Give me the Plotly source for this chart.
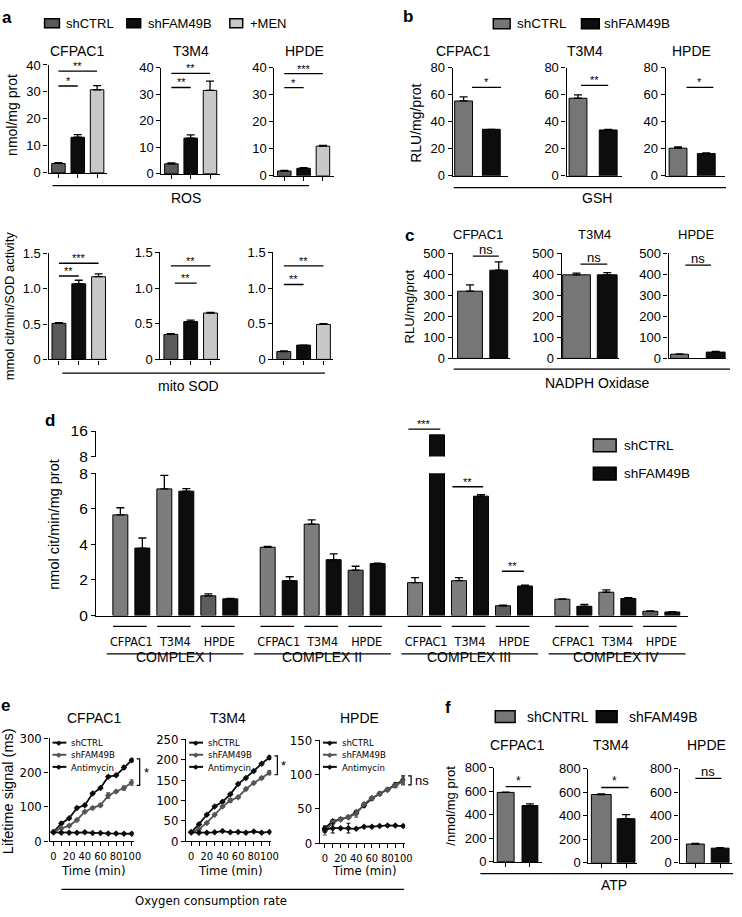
import plotly.graph_objects as go

W, H = 742, 917
FONT = 'Liberation Sans, Arial, sans-serif'
NARROW = 'Liberation Sans Narrow, DejaVu Sans Condensed, Liberation Sans, Arial, sans-serif'

cells = ['CFPAC1', 'T3M4', 'HPDE']

# a: ROS (nmol/mg prot) and mito SOD, shCTRL / shFAM49B / +MEN
ros_ctrl = [3.5, 3.8, 1.8]
ros_fam = [13.2, 13.5, 2.8]
ros_men = [30.8, 31.5, 11.0]
ros_ctrl_err = [0.3, 0.3, 0.2]
ros_fam_err = [1.0, 1.2, 0.2]
ros_men_err = [1.5, 3.5, 0.3]

sod_ctrl = [0.51, 0.35, 0.11]
sod_fam = [1.07, 0.53, 0.20]
sod_men = [1.17, 0.65, 0.49]
sod_ctrl_err = [0.01, 0.01, 0.01]
sod_fam_err = [0.05, 0.02, 0.0]
sod_men_err = [0.04, 0.01, 0.01]

# b: GSH
gsh_ctrl = [55.5, 57.5, 20.5]
gsh_fam = [34.5, 34.0, 16.5]
gsh_ctrl_err = [3.0, 2.5, 1.0]
gsh_fam_err = [0.0, 0.5, 0.5]

# c: NADPH oxidase
nox_ctrl = [320, 398, 20]
nox_fam = [420, 398, 30]
nox_ctrl_err = [30, 8, 2]
nox_fam_err = [40, 10, 3]

# d: respiratory chain complexes (rows = complex, cols = cell line)
complexes = ['COMPLEX I', 'COMPLEX II', 'COMPLEX III', 'COMPLEX IV']
cx_ctrl = [[5.66, 7.12, 1.11], [3.84, 5.14, 2.55], [1.85, 1.96, 0.55], [0.92, 1.31, 0.24]]
cx_fam = [[3.79, 6.99, 0.94], [1.96, 3.14, 2.92], [14.8, 6.71, 1.66], [0.52, 0.96, 0.20]]
cx_ctrl_err = [[0.40, 0.76, 0.11], [0.04, 0.24, 0.22], [0.28, 0.17, 0.03], [0.02, 0.13, 0.02]]
cx_fam_err = [[0.57, 0.15, 0.02], [0.22, 0.33, 0.02], [0.0, 0.09, 0.05], [0.10, 0.04, 0.02]]

# e: oxygen consumption, lifetime signal (ms)
time_min = [0, 10, 20, 30, 40, 50, 60, 70, 80, 90, 100]
ocr_ctrl = [[27, 52, 67, 97, 105, 139, 155, 188, 192, 215, 236],
            [22, 42, 65, 85, 97, 115, 140, 155, 172, 190, 205],
            [22, 32, 35, 38, 45, 55, 65, 72, 78, 85, 92]]
ocr_fam = [[27, 38, 45, 62, 86, 97, 105, 133, 145, 155, 171],
           [22, 30, 45, 65, 85, 100, 108, 128, 143, 155, 168],
           [18, 30, 35, 38, 43, 57, 66, 72, 78, 84, 90]]
ocr_anti = [[26, 25, 25, 25, 26, 24, 24, 23, 23, 22, 22],
            [22, 21, 21, 22, 25, 22, 23, 21, 24, 21, 23],
            [20, 22, 22, 22, 21, 24, 24, 25, 26, 26, 25]]
ocr_ctrl_err = [[2, 3, 2, 3, 3, 3, 2, 3, 3, 5, 4],
                [1, 2, 2, 2, 2, 2, 2, 2, 2, 3, 4],
                [3, 2, 2, 2, 2, 2, 2, 2, 2, 3, 6]]
ocr_fam_err = [[2, 2, 2, 3, 3, 3, 4, 8, 3, 6, 8],
               [1, 2, 2, 2, 2, 5, 2, 3, 2, 3, 5],
               [6, 3, 2, 2, 5, 2, 2, 2, 2, 3, 5]]
ocr_anti_err = [[1, 1, 1, 1, 1, 1, 1, 1, 1, 1, 1],
                [1, 1, 1, 1, 1, 1, 1, 1, 1, 1, 1],
                [4, 7, 1, 7, 1, 1, 1, 1, 1, 1, 1]]

# f: ATP
atp_ctrl = [590, 580, 160]
atp_fam = [478, 375, 125]
atp_ctrl_err = [3, 5, 5]
atp_fam_err = [15, 35, 5]

GRAY_A = '#5a5a5a'
LIGHT = '#c8c8c8'
BLACK = '#0d0d0d'
GRAY = '#767676'
GRAY_DARK = '#5c5c5c'

fig = go.Figure()
layout = {}
shapes = []
annots = []


def px(x):
    return x / W


def py(y):
    return 1 - y / H


AXIS = dict(showline=True, linecolor='black', linewidth=1.3, showgrid=False, zeroline=False,
            fixedrange=True, tickcolor='black', tickwidth=1.2, ticklen=4, tickangle=0)


def ids(i):
    return ('x', 'y') if i == 1 else ('x%d' % i, 'y%d' % i)


def make_axes(i, box, xr, yr, yvals, xvals=None, xlabels=None, xticks=False, yfont=13, xfont=13):
    left, right, top, bottom = box
    xa, ya = ids(i)
    sx = '' if i == 1 else str(i)
    layout['xaxis' + sx] = dict(AXIS, domain=[px(left), px(right)], range=xr, anchor=ya,
                                tickvals=xvals if xvals is not None else [],
                                ticktext=xlabels, ticks='outside' if xticks else '',
                                showticklabels=xlabels is not None,
                                tickfont=dict(family=FONT, size=xfont, color='black'))
    layout['yaxis' + sx] = dict(AXIS, domain=[py(bottom), py(top)], range=yr, anchor=xa,
                                tickvals=yvals, ticks='outside',
                                tickfont=dict(family=FONT, size=yfont, color='black'))
    return xa, ya


def add_bar(xa, ya, x, y, err, color, width, name):
    fig.add_trace(go.Bar(
        x=x, y=y, xaxis=xa, yaxis=ya, width=width, name=name,
        marker=dict(color=color, line=dict(color='black', width=1)),
        error_y=dict(type='data', symmetric=False, array=err, arrayminus=[0] * len(err),
                     color='black', thickness=1.3, width=4)))


def sig(xa, ya, x0, x1, y, text, size=11):
    shapes.append(dict(type='line', xref=xa, yref=ya, x0=x0, x1=x1, y0=y, y1=y,
                       line=dict(color='black', width=1.3)))
    annots.append(dict(xref=xa, yref=ya, x=(x0 + x1) / 2, y=y, text=text, showarrow=False,
                       yanchor='bottom', yshift=-3,
                       font=dict(family=FONT, size=size, color='black')))


def text(x, y, t, size=14, family=FONT, angle=0, bold=False, anchor='center', color='black'):
    annots.append(dict(xref='paper', yref='paper', x=px(x), y=py(y), text='<b>%s</b>' % t if bold else t,
                       showarrow=False, textangle=angle, xanchor=anchor, yanchor='middle',
                       font=dict(family=family, size=size, color=color)))


def hline(x0, x1, y, width=1.3, color='black'):
    shapes.append(dict(type='line', xref='paper', yref='paper', x0=px(x0), x1=px(x1),
                       y0=py(y), y1=py(y), line=dict(color=color, width=width)))


def swatch(x0, y0, x1, y1, color, label, tx, size=13):
    shapes.append(dict(type='rect', xref='paper', yref='paper', x0=px(x0), x1=px(x1), y0=py(y1), y1=py(y0),
                       fillcolor=color, line=dict(color='black', width=1.5)))
    text(tx, (y0 + y1) / 2, label, size, anchor='left')


def bar_range(box, first, step):
    left, right = box[0], box[1]
    return [-first / step, (right - left - first) / step]


# ---------------- panel a ----------------
a_top = [(49, 108, 57, 167), (163, 222, 60, 168), (277, 337, 60, 170)]
a_bot = [(49, 108, 249, 357), (162, 222, 248, 357), (276, 336, 248, 357)]
a_top_sig = [[(0, 2, 37.7, '**'), (0, 1, 32.2, '*')],
             [(0, 2, 37.9, '**'), (0, 1, 32.6, '**')],
             [(0, 2, 37.9, '***'), (0, 1, 32.7, '*')]]
a_bot_sig = [[(0, 2, 1.36, '***'), (0, 1, 1.18, '**')],
             [(0, 2, 1.31, '**'), (0.2, 1.3, 1.07, '**')],
             [(0, 2, 1.31, '**'), (0, 1, 1.05, '**')]]
a_titles_x = [78, 193, 307]
idx = 1
for k in range(3):
    xa, ya = make_axes(idx, a_top[k], bar_range(a_top[k], 10, 19.5), [0, 40], [0, 10, 20, 30, 40],
                       xvals=[0, 1, 2], xticks=True)
    idx += 1
    add_bar(xa, ya, [0], [ros_ctrl[k]], [ros_ctrl_err[k]], GRAY_A, 0.7, 'shCTRL')
    add_bar(xa, ya, [1], [ros_fam[k]], [ros_fam_err[k]], BLACK, 0.7, 'shFAM49B')
    add_bar(xa, ya, [2], [ros_men[k]], [ros_men_err[k]], LIGHT, 0.7, '+MEN')
    for s in a_top_sig[k]:
        sig(xa, ya, *s)
    text(a_titles_x[k], 43, cells[k], 14)

    xa, ya = make_axes(idx, a_bot[k], bar_range(a_bot[k], 10.5, 20), [0, 1.5], [0, 0.5, 1.0, 1.5],
                       xvals=[0, 1, 2], xticks=True)
    layout['yaxis%d' % idx]['ticktext'] = ['0', '0.5', '1.0', '1.5']
    idx += 1
    add_bar(xa, ya, [0], [sod_ctrl[k]], [sod_ctrl_err[k]], GRAY_A, 0.7, 'shCTRL')
    add_bar(xa, ya, [1], [sod_fam[k]], [sod_fam_err[k]], BLACK, 0.7, 'shFAM49B')
    add_bar(xa, ya, [2], [sod_men[k]], [sod_men_err[k]], LIGHT, 0.7, '+MEN')
    for s in a_bot_sig[k]:
        sig(xa, ya, *s)

text(7, 9, 'a', 17, bold=True)
swatch(45, 10, 60, 19, GRAY_A, 'shCTRL', 65)
swatch(128, 10, 142, 19, BLACK, 'shFAM49B', 147)
swatch(232, 10, 245, 19, LIGHT, '+MEN', 250)
text(12, 108, 'nmol/mg prot', 14, angle=-90)
text(9, 302, 'mmol cit/min/SOD activity', 13, angle=-90)
hline(53, 312, 180)
text(188, 193, 'ROS', 14)
hline(63, 328, 371)
text(190, 384, 'mito SOD', 14)

# ---------------- panel b ----------------
b_boxes = [(457, 513, 60, 170), (572, 628, 60, 170), (672, 732, 60, 170)]
b_first = [11, 11.5, 12.5]
b_step = [28, 30.5, 28.5]
b_sig = [(0.3, 1.35, 65.5, '*'), (0.1, 1.0, 67, '**'), (0.3, 1.25, 65.5, '*')]
b_titles_x = [467, 591, 698]
for k in range(3):
    xa, ya = make_axes(idx, b_boxes[k], bar_range(b_boxes[k], b_first[k], b_step[k]), [0, 80],
                       [0, 20, 40, 60, 80])
    idx += 1
    add_bar(xa, ya, [0], [gsh_ctrl[k]], [gsh_ctrl_err[k]], GRAY, 18 / b_step[k], 'shCTRL')
    add_bar(xa, ya, [1], [gsh_fam[k]], [gsh_fam_err[k]], BLACK, 18 / b_step[k], 'shFAM49B')
    sig(xa, ya, *b_sig[k])
    text(b_titles_x[k], 43, cells[k], 14)

text(412, 8, 'b', 17, bold=True)
swatch(498, 10, 515, 20, GRAY, 'shCTRL', 520, 13.5)
swatch(587, 10, 605, 20, BLACK, 'shFAM49B', 608, 13.5)
text(420, 117, 'RLU/mg/prot', 14, angle=-90)
hline(458, 733, 182)
text(603, 193, 'GSH', 14)

# ---------------- panel c ----------------
c_boxes = [(457, 515, 249, 356), (567, 625, 249, 356), (675, 733, 249, 356)]
c_first = [17.5, 15, 11]
c_step = [29, 31, 36.5]
c_wgray = [25, 28, 18]
c_wblack = [18, 20, 19]
c_sig = [(0.1, 1.0, 487, 'ns'), (0.13, 1.0, 449, 'ns'), (0.16, 0.87, 444, 'ns')]
c_titles_x = [483, 600, 703]
for k in range(3):
    xa, ya = make_axes(idx, c_boxes[k], bar_range(c_boxes[k], c_first[k], c_step[k]), [0, 500],
                       [0, 100, 200, 300, 400, 500])
    idx += 1
    add_bar(xa, ya, [0], [nox_ctrl[k]], [nox_ctrl_err[k]], GRAY, c_wgray[k] / c_step[k], 'shCTRL')
    add_bar(xa, ya, [1], [nox_fam[k]], [nox_fam_err[k]], BLACK, c_wblack[k] / c_step[k], 'shFAM49B')
    sig(xa, ya, *c_sig[k], size=13)
    text(c_titles_x[k], 230, cells[k], 13)

text(413, 231, 'c', 17, bold=True)
text(413, 303, 'RLU/mg/prot', 13, angle=-90)
hline(458, 737, 367)
text(603, 381, 'NADPH Oxidase', 14)

# ---------------- panel d ----------------
GROUP_GAP = 6.7
d_xr = [(97 - 121.5) / 22.2, (695 - 121.5) / 22.2]
d_x_ctrl = [g * GROUP_GAP + 2 * p for g in range(4) for p in range(3)]
d_x_fam = [x + 1 for x in d_x_ctrl]
d_ctrl = [v for row in cx_ctrl for v in row]
d_fam = [v for row in cx_fam for v in row]
d_ctrl_err = [v for row in cx_ctrl_err for v in row]
d_fam_err = [v for row in cx_fam_err for v in row]
d_gray = [GRAY_DARK if p == 2 else '#7d7d7d' for g in range(4) for p in range(3)]

xa, ya = make_axes(idx, (97, 695, 473, 618), d_xr, [0, 8], [0, 2, 4, 6, 8],
                   xvals=[x + 0.5 for x in d_x_ctrl], xlabels=cells * 4, yfont=15.5, xfont=12.5)
layout['xaxis%d' % idx]['tickfont']['family'] = NARROW
layout['xaxis%d' % idx]['ticklabelstandoff'] = 14
idx += 1
# upper segment of the broken y axis
ya_up = 'y%d' % idx
layout['yaxis%d' % idx] = dict(AXIS, domain=[py(456), py(430)], range=[8, 16], anchor=xa,
                               tickvals=[8, 16], ticks='outside',
                               tickfont=dict(family=FONT, size=15.5, color='black'))
idx += 1

fig.add_trace(go.Bar(x=d_x_ctrl, y=d_ctrl, xaxis=xa, yaxis=ya, width=0.68, name='shCTRL',
                     marker=dict(color=d_gray, line=dict(color='black', width=1)),
                     error_y=dict(type='data', symmetric=False, array=d_ctrl_err, arrayminus=[0] * 12,
                                  color='black', thickness=1.3, width=4)))
fig.add_trace(go.Bar(x=d_x_fam, y=d_fam, xaxis=xa, yaxis=ya, width=0.68, name='shFAM49B',
                     marker=dict(color=BLACK, line=dict(color='black', width=1)),
                     error_y=dict(type='data', symmetric=False, array=d_fam_err, arrayminus=[0] * 12,
                                  color='black', thickness=1.3, width=4)))
big = [(x, v) for x, v in zip(d_x_fam, d_fam) if v > 8]
fig.add_trace(go.Bar(x=[b[0] for b in big], y=[b[1] for b in big], xaxis=xa, yaxis=ya_up, width=0.68,
                     marker=dict(color=BLACK, line=dict(color='black', width=1)), name='shFAM49B'))

# pair underlines and complex labels
for g in range(4):
    for p in range(3):
        x0 = g * GROUP_GAP + 2 * p
        shapes.append(dict(type='line', xref=xa, yref='paper', x0=x0 - 0.33, x1=x0 + 1.2,
                           y0=py(629), y1=py(629), line=dict(color='black', width=1.3)))
    base = g * GROUP_GAP
    shapes.append(dict(type='line', xref=xa, yref='paper', x0=base - 0.62, x1=base + 5.6,
                       y0=py(657), y1=py(657), line=dict(color='black', width=1.3)))
    annots.append(dict(xref=xa, yref='paper', x=base + 2.45, y=py(670), text=complexes[g],
                       showarrow=False, font=dict(family=FONT, size=14, color='black')))

# significance in complex III
c3 = 2 * GROUP_GAP
shapes.append(dict(type='line', xref=xa, yref='paper', x0=c3 - 0.3, x1=c3 + 1.15, y0=py(428), y1=py(428),
                   line=dict(color='black', width=1.3)))
annots.append(dict(xref=xa, yref='paper', x=c3 + 0.42, y=py(428), text='***', showarrow=False,
                   yanchor='bottom', yshift=-3, font=dict(family=FONT, size=11, color='black')))
sig(xa, ya, c3 + 2 - 0.3, c3 + 3.1, 7.24, '**')
sig(xa, ya, c3 + 4 - 0.05, c3 + 4.95, 2.49, '**')

text(50, 419, 'd', 17, bold=True)
text(55, 525, 'nmol cit/min/mg prot', 14.5, angle=-90)
swatch(599, 438, 622, 451, '#7d7d7d', 'shCTRL', 628, 13.5)
swatch(599, 467, 622, 480, BLACK, 'shFAM49B', 628, 13.5)

# ---------------- panel e ----------------
e_boxes = [(50, 135, 743, 848), (188, 274, 744, 848), (323, 409, 745, 850)]
e_zero = [54, 193, 328]
e_hund = [133, 272, 407]
e_yr = [[0, 300], [0, 250], [0, 150]]
e_yt = [[0, 100, 200, 300], [0, 50, 100, 150, 200, 250], [0, 50, 100, 150]]
e_mark = ['*', '*', 'ns']
e_titles_x = [95, 230, 363]
e_series = [('shCTRL', BLACK), ('shFAM49B', '#555555'), ('Antimycin', BLACK)]
LEG_SIZE = 9.5
LEG_STEP = LEG_SIZE * 1.3
xlabels = [str(t) if t % 20 == 0 else '' for t in time_min]
for k in range(3):
    l, r = e_boxes[k][0], e_boxes[k][1]
    sc = 100 / (e_hund[k] - e_zero[k])
    xr = [-(e_zero[k] - l) * sc, 100 + (r - e_hund[k]) * sc]
    xa, ya = make_axes(idx, e_boxes[k], xr, e_yr[k], e_yt[k], xvals=time_min, xlabels=xlabels,
                       xticks=True, yfont=13, xfont=11)
    layout['xaxis%d' % idx]['tickfont']['family'] = NARROW
    layout['yaxis%d' % idx]['tickfont']['family'] = NARROW
    idx += 1
    data = [(ocr_ctrl[k], ocr_ctrl_err[k]), (ocr_fam[k], ocr_fam_err[k]), (ocr_anti[k], ocr_anti_err[k])]
    for (name, col), (vals, err) in zip(e_series, data):
        fig.add_trace(go.Scatter(x=time_min, y=vals, xaxis=xa, yaxis=ya, mode='lines+markers', name=name,
                                 line=dict(color=col, width=1.8),
                                 marker=dict(symbol='diamond', size=5, color=col),
                                 error_y=dict(type='data', array=err, color=col, thickness=1.1, width=2)))
    # bracket between the two curves at 100 min
    top = max(ocr_ctrl[k][-1] + ocr_ctrl_err[k][-1], ocr_fam[k][-1] + ocr_fam_err[k][-1])
    bot = min(ocr_ctrl[k][-1] - ocr_ctrl_err[k][-1], ocr_fam[k][-1] - ocr_fam_err[k][-1])
    bx = e_hund[k] + 8
    shapes.append(dict(type='path', xref='paper', yref=ya,
                       path='M%f,%f L%f,%f L%f,%f L%f,%f' % (px(bx - 3), bot, px(bx), bot, px(bx), top, px(bx - 3), top),
                       line=dict(color='black', width=1.2)))
    annots.append(dict(xref='paper', yref=ya, x=px(bx + 2), y=(top + bot) / 2, text=e_mark[k], showarrow=False,
                       xanchor='left', font=dict(family=FONT, size=13, color='black')))
    # inline legend: one text block, with a line + diamond sample per row
    for j, (name, col) in enumerate(e_series):
        yy = 747.5 + LEG_STEP * j
        hline(l + 3, l + 17, yy, 2, col)
        text(l + 10, yy, '\u25c6', 7, family='DejaVu Sans', color=col)
    annots.append(dict(xref='paper', yref='paper', x=px(l + 20), y=py(747.5 + LEG_STEP), xanchor='left',
                       yanchor='middle', align='left', showarrow=False,
                       text='<br>'.join(n for n, c in e_series),
                       font=dict(family=NARROW, size=LEG_SIZE, color='black')))
    text(e_titles_x[k], 722, cells[k], 14)
    annots.append(dict(xref=xa, yref='paper', x=50, y=py(887), text='Time (min)', showarrow=False,
                       font=dict(family=NARROW, size=13, color='black')))

text(6, 710, 'e', 17, bold=True)
text(8, 797, 'Lifetime signal (ms)', 14.5, angle=-90)
hline(62, 408, 897)
text(213, 908, 'Oxygen consumption rate', 13, family=NARROW)

# ---------------- panel f ----------------
f_boxes = [(499, 547, 773, 869), (594, 643, 774, 870), (686, 739, 774, 870)]
f_first = [11.5, 13, 16]
f_step = [24.5, 25, 25]
f_wgray = [17, 20, 18]
f_wblack = [16, 18, 18]
f_sig = [(0, 1.05, 639, '*'), (0, 1.1, 640, '*'), (0, 1.05, 717, 'ns')]
f_titles_x = [522, 617, 713]
for k in range(3):
    xa, ya = make_axes(idx, f_boxes[k], bar_range(f_boxes[k], f_first[k], f_step[k]), [0, 800],
                       [0, 200, 400, 600, 800], xvals=[0, 1], xticks=True)
    idx += 1
    add_bar(xa, ya, [0], [atp_ctrl[k]], [atp_ctrl_err[k]], GRAY, f_wgray[k] / f_step[k], 'shCNTRL')
    add_bar(xa, ya, [1], [atp_fam[k]], [atp_fam_err[k]], BLACK, f_wblack[k] / f_step[k], 'shFAM49B')
    sig(xa, ya, *f_sig[k], size=13 if f_sig[k][3] == 'ns' else 12)
    text(f_titles_x[k], 750, cells[k], 14)

text(452, 712, 'f', 17, bold=True)
swatch(500, 715, 520, 727, GRAY, 'shCNTRL', 530, 14)
swatch(602, 715, 623, 727, BLACK, 'shFAM49B', 633, 14)
text(455, 812, '/nmol/mg prot', 13, angle=-90)
hline(485, 740, 881)
text(620, 893, 'ATP', 14)

fig.update_layout(**layout)
fig.update_layout(width=W, height=H, margin=dict(l=0, r=0, t=0, b=0), barmode='overlay', showlegend=False,
                  plot_bgcolor='white', paper_bgcolor='white', shapes=shapes, annotations=annots,
                  font=dict(family=FONT, color='black'))
# the page body has a default 8px margin; drop it so the 742x917 figure fills the window
fig.write_html('out.html', config={'displayModeBar': False},
               post_script="document.body.style.margin='0';document.body.style.overflow='hidden';")
